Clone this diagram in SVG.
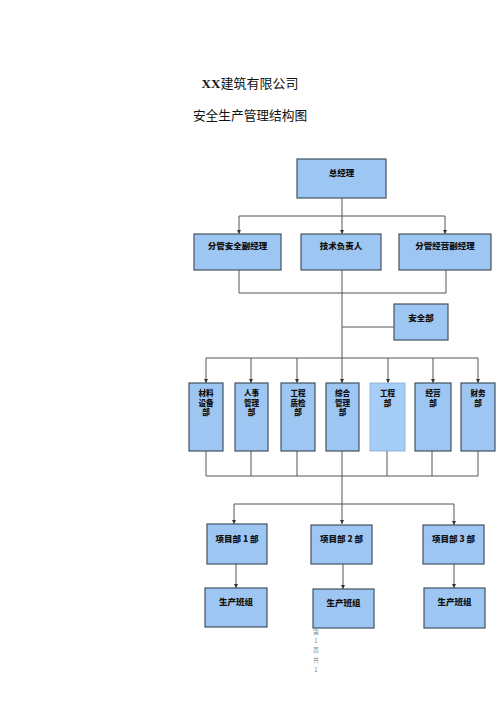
<svg xmlns="http://www.w3.org/2000/svg" width="500" height="707" viewBox="0 0 500 707">
<style>
.box{fill:#9EC6F2;stroke:#44525F;stroke-width:1.2}
.box2{fill:#A6CDF7;stroke:#8AA8C8;stroke-width:0.8}
.t{font-family:"Noto Sans CJK SC","Noto Sans",sans-serif;font-weight:900;font-size:8.5px;fill:#111;text-anchor:middle}
.c{font-family:"Noto Sans CJK SC","Noto Sans",sans-serif;font-weight:900;font-size:7.6px;fill:#111;text-anchor:middle}
.ln{fill:none;stroke:#555;stroke-width:1}
.pg{font-family:"Noto Sans CJK SC",sans-serif;font-size:6px;fill:#888;text-anchor:middle}
</style>
<defs>
<marker id="ah" viewBox="0 0 8 8" refX="8" refY="4" markerWidth="4.5" markerHeight="4.5" orient="auto" markerUnits="userSpaceOnUse">
<path d="M0,0 L8,4 L0,8 z" fill="#333"/>
</marker>
</defs>
<rect width="500" height="707" fill="#fff"/>
<text x="250" y="88" text-anchor="middle" font-size="13" fill="#111"><tspan font-family="Liberation Serif,serif" font-weight="bold">XX</tspan><tspan font-family="Noto Sans CJK SC,sans-serif">建筑有限公司</tspan></text>
<text x="250" y="120" text-anchor="middle" font-size="12.7" font-family="Noto Sans CJK SC,sans-serif" fill="#111">安全生产管理结构图</text>

<g id="connectors">
<path class="ln" d="M342,198 V234" marker-end="url(#ah)"/>
<path class="ln" d="M239,216 H445"/>
<path class="ln" d="M239,216 V234" marker-end="url(#ah)"/>
<path class="ln" d="M445,216 V234" marker-end="url(#ah)"/>
<path class="ln" d="M239,270 V293 H446 V270"/>
<path class="ln" d="M342,270 V383" marker-end="url(#ah)"/>
<path class="ln" d="M342,327 H394"/>
<path class="ln" d="M206,358 H478"/>
<path class="ln" d="M206,358 V383" marker-end="url(#ah)"/>
<path class="ln" d="M251,358 V383" marker-end="url(#ah)"/>
<path class="ln" d="M297,358 V383" marker-end="url(#ah)"/>
<path class="ln" d="M388,358 V383" marker-end="url(#ah)"/>
<path class="ln" d="M433,358 V383" marker-end="url(#ah)"/>
<path class="ln" d="M478,358 V383" marker-end="url(#ah)"/>
<path class="ln" d="M206,451 V476 H478 V451"/>
<path class="ln" d="M251,451 V476"/>
<path class="ln" d="M297,451 V476"/>
<path class="ln" d="M387,451 V476"/>
<path class="ln" d="M432,451 V476"/>
<path class="ln" d="M342,451 V524" marker-end="url(#ah)"/>
<path class="ln" d="M234,504 H454"/>
<path class="ln" d="M234,504 V524" marker-end="url(#ah)"/>
<path class="ln" d="M454,504 V525" marker-end="url(#ah)"/>
<path class="ln" d="M236,564 V588" marker-end="url(#ah)"/>
<path class="ln" d="M343,564 V589" marker-end="url(#ah)"/>
<path class="ln" d="M454,564 V588" marker-end="url(#ah)"/>
</g>

<g id="n-zongjingli"><rect class="box" x="297" y="159" width="89" height="39"/><text class="t" x="341.5" y="176">总经理</text></g>
<g id="n-fenguananquan"><rect class="box" x="194" y="234" width="87" height="36"/><text class="t" x="237.5" y="248.5">分管安全副经理</text></g>
<g id="n-jishu"><rect class="box" x="301" y="234" width="80" height="36"/><text class="t" x="341" y="248.5">技术负责人</text></g>
<g id="n-fenguanjingying"><rect class="box" x="399" y="234" width="92" height="36"/><text class="t" x="445" y="248.5">分管经营副经理</text></g>
<g id="n-anquanbu"><rect class="box" x="394" y="304" width="54" height="36"/><text class="t" x="421" y="320.5">安全部</text></g>

<g id="n-cailiao"><rect class="box" x="189" y="383" width="34" height="68"/><text class="c" x="206" y="396">材料</text><text class="c" x="206" y="405.6">设备</text><text class="c" x="206" y="415.2">部</text></g>
<g id="n-renshi"><rect class="box" x="235" y="383" width="33" height="68"/><text class="c" x="251.5" y="396">人事</text><text class="c" x="251.5" y="405.6">管理</text><text class="c" x="251.5" y="415.2">部</text></g>
<g id="n-zhijian"><rect class="box" x="281" y="383" width="34" height="68"/><text class="c" x="298" y="396">工程</text><text class="c" x="298" y="405.6">质检</text><text class="c" x="298" y="415.2">部</text></g>
<g id="n-zonghe"><rect class="box" x="326" y="383" width="33" height="68"/><text class="c" x="342.5" y="396">综合</text><text class="c" x="342.5" y="405.6">管理</text><text class="c" x="342.5" y="415.2">部</text></g>
<g id="n-gongcheng"><rect class="box2" x="370" y="383" width="35" height="68"/><text class="c" x="387.5" y="396">工程</text><text class="c" x="387.5" y="405.6">部</text></g>
<g id="n-jingying"><rect class="box" x="415" y="383" width="36" height="68"/><text class="c" x="433" y="396">经营</text><text class="c" x="433" y="405.6">部</text></g>
<g id="n-caiwu"><rect class="box" x="461" y="383" width="34" height="68"/><text class="c" x="478" y="396">财务</text><text class="c" x="478" y="405.6">部</text></g>

<g id="n-xm1"><rect class="box" x="207" y="524" width="60" height="40"/><text class="t" x="237" y="541.5">项目部 1 部</text></g>
<g id="n-xm2"><rect class="box" x="311" y="525" width="61" height="39"/><text class="t" x="341.5" y="541.5">项目部 2 部</text></g>
<g id="n-xm3"><rect class="box" x="423" y="525" width="61" height="39"/><text class="t" x="453.5" y="541.5">项目部 3 部</text></g>

<g id="n-bz1"><rect class="box" x="205" y="588" width="62" height="39"/><text class="t" x="236" y="605">生产班组</text></g>
<g id="n-bz2"><rect class="box" x="313" y="589" width="61" height="39"/><text class="t" x="343.5" y="605.5">生产班组</text></g>
<g id="n-bz3"><rect class="box" x="424" y="588" width="61" height="40"/><text class="t" x="454.5" y="605">生产班组</text></g>

<g id="pagenum">
<text class="pg" x="316" y="634">第</text>
<text class="pg" x="316" y="643">1</text>
<text class="pg" x="316" y="652">页</text>
<text class="pg" x="316" y="662">共</text>
<text class="pg" x="316" y="672">1</text>
</g>
</svg>
